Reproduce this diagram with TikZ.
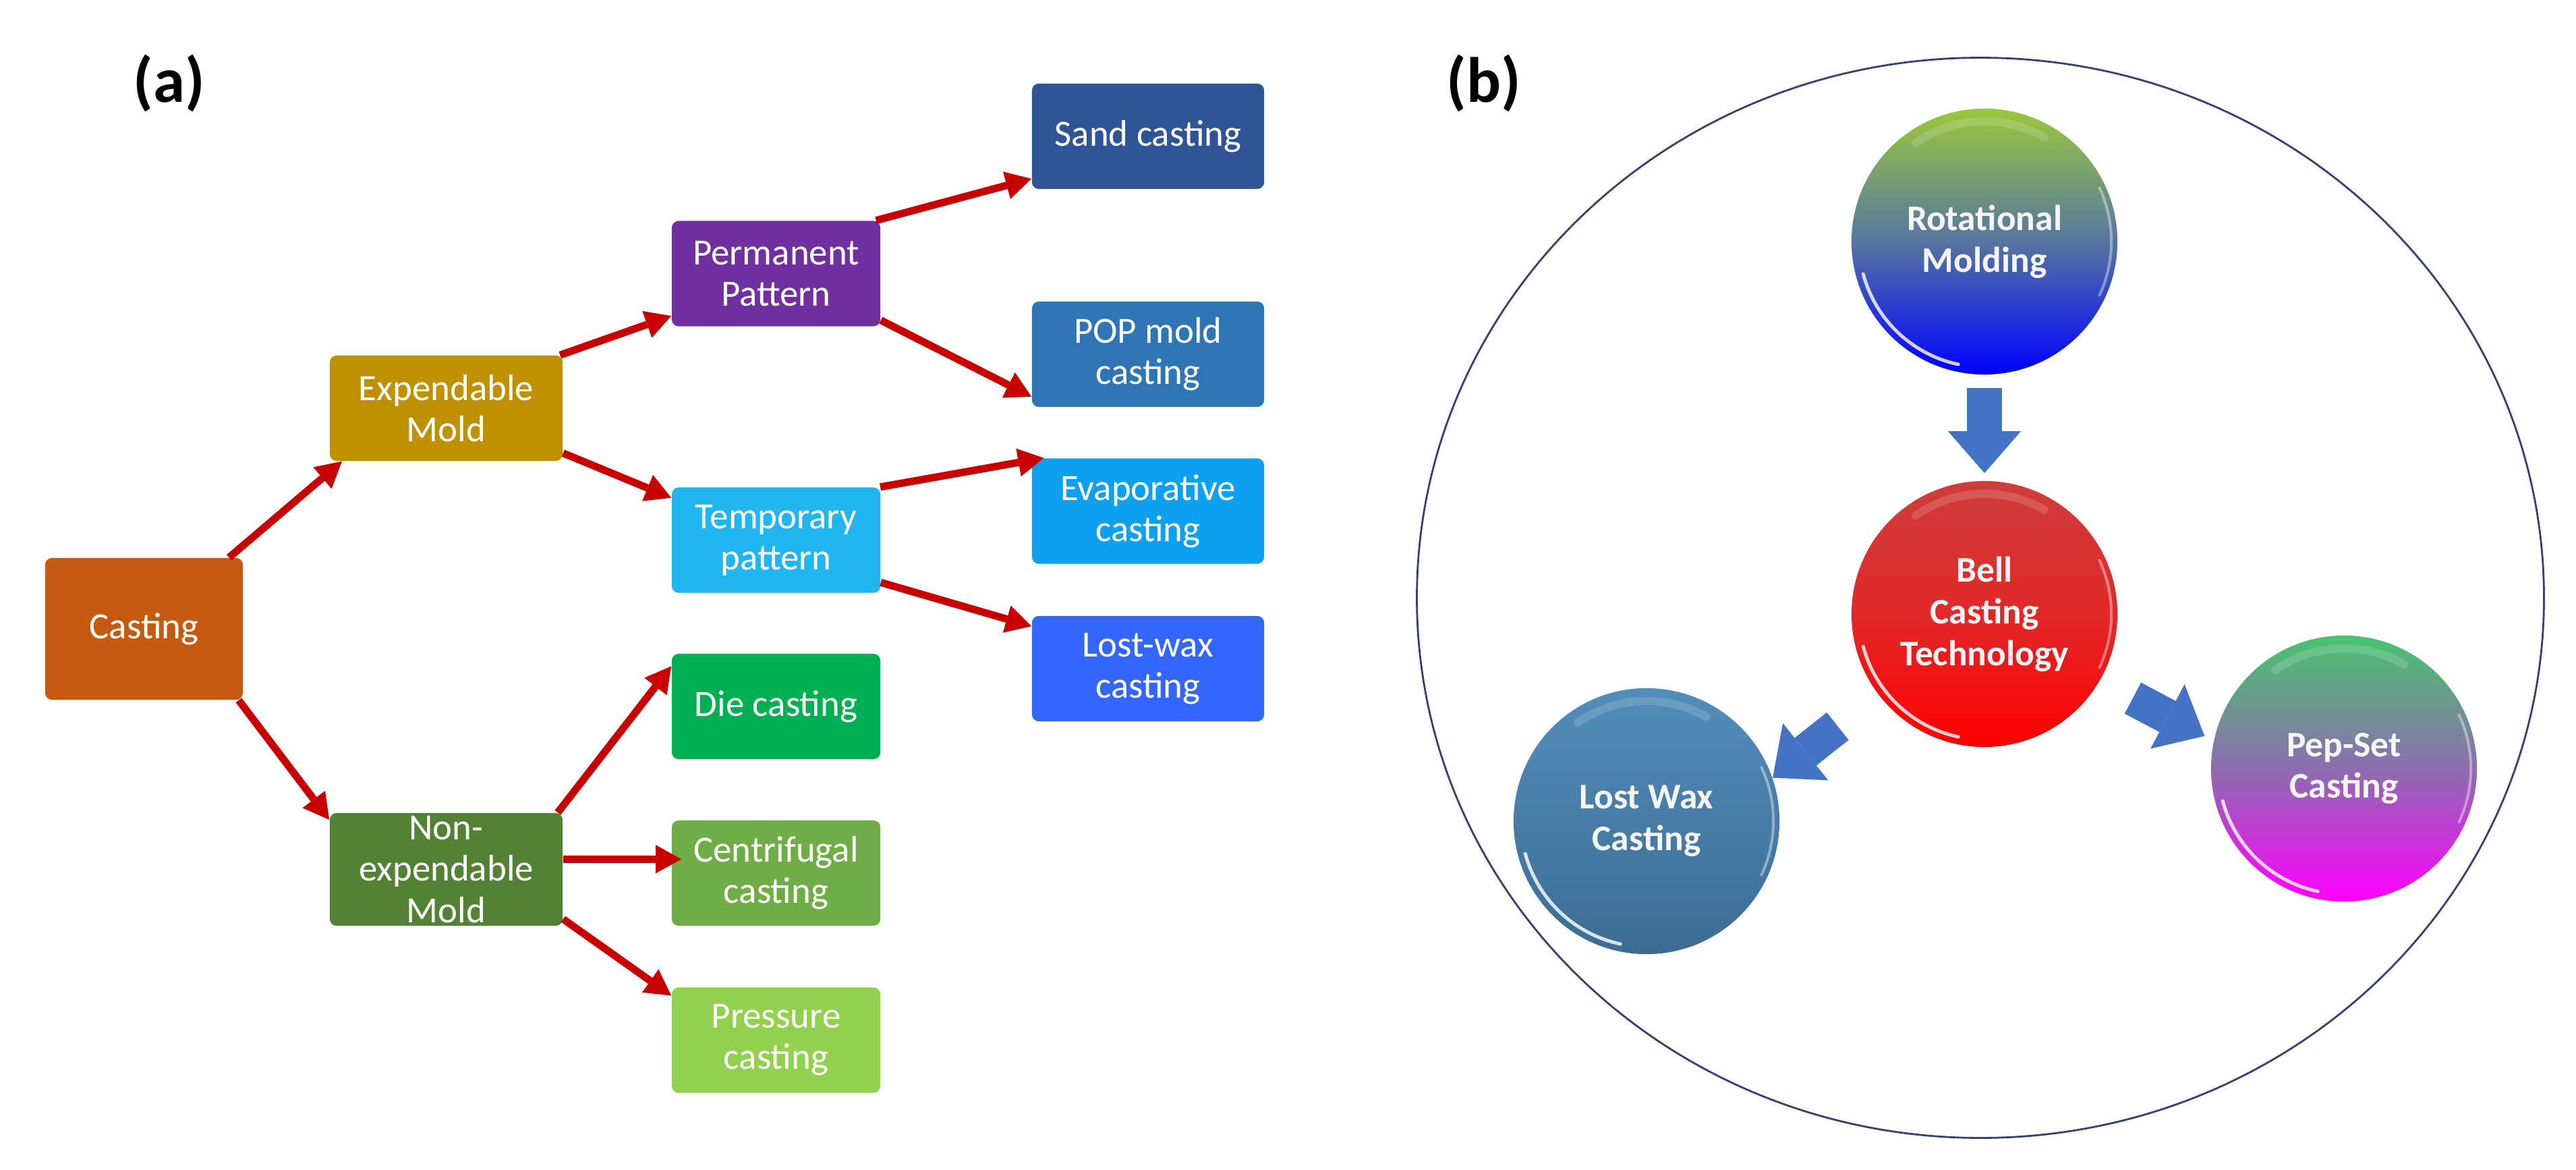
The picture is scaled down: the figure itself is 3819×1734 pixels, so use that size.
\documentclass[tikz,border=0pt]{standalone}
\usepackage{fontspec}
\setmainfont{Carlito}
\usepackage{tikz}
\usetikzlibrary{arrows.meta}

\definecolor{castcol}{RGB}{197,90,17}
\definecolor{expcol}{RGB}{191,144,0}
\definecolor{nonexpcol}{RGB}{84,130,53}
\definecolor{permcol}{RGB}{112,48,160}
\definecolor{tempcol}{RGB}{34,182,240}
\definecolor{diecol}{RGB}{0,176,80}
\definecolor{centcol}{RGB}{112,173,71}
\definecolor{prescol}{RGB}{146,208,80}
\definecolor{sandcol}{RGB}{47,85,151}
\definecolor{popcol}{RGB}{46,117,182}
\definecolor{evapcol}{RGB}{12,160,240}
\definecolor{lwcol}{RGB}{51,102,255}
\definecolor{linkred}{RGB}{200,0,0}
\definecolor{fatblue}{RGB}{68,114,196}
\definecolor{rimcol}{RGB}{55,65,110}

\newcommand{\boxfont}{\fontsize{15.6}{17.4}\selectfont}
\newcommand{\ballfont}{\bfseries\fontsize{15.2}{17.6}\selectfont}
\newcommand{\tagfont}{\bfseries\fontsize{27}{30}\selectfont}

\begin{document}
\begin{tikzpicture}[x=0.01cm, y=-0.01cm,
    box/.style={rectangle, rounded corners=0.1cm, text=white, align=center, font=\boxfont,
      minimum height=1.56cm, inner sep=0pt},
    link/.style={draw=linkred, line width=0.11cm, -{Triangle[width=0.42cm,length=0.38cm,line width=0pt]}},
    ball/.style={circle, minimum size=3.94cm, inner sep=0pt, text=white!92!gray, align=center, font=\ballfont,
      path picture={
        \draw[white, opacity=0.8, line width=0.05cm, line cap=round]
          ([shift={(195:1.86cm)}]path picture bounding box.center) arc[start angle=195, end angle=258, radius=1.86cm];
        \draw[white, opacity=0.4, line width=0.04cm, line cap=round]
          ([shift={(-25:1.88cm)}]path picture bounding box.center) arc[start angle=-25, end angle=25, radius=1.88cm];
        \draw[white, opacity=0.15, line width=0.12cm, line cap=round]
          ([shift={(60:1.78cm)}]path picture bounding box.center) arc[start angle=60, end angle=125, radius=1.78cm];
      }},
    fatarrow/.style={draw=fatblue, line width=0.52cm, -{Triangle[width=1.08cm,length=0.62cm,line width=0pt]}},
    rim/.style={draw=rimcol, line width=0.8pt}]
    \useasboundingbox (0,0) rectangle (3819,1734);

    % (a) tree of casting methods
    \node[font=\tagfont] (taga) at (251,123) {(a)};
    \node[box, fill=castcol, minimum width=2.93cm, minimum height=2.10cm] (casting) at (213.5,932) {Casting};
    \node[box, fill=expcol, minimum width=3.45cm] (expmold) at (661.5,605) {Expendable\\Mold};
    \node[box, fill=nonexpcol, minimum width=3.45cm, minimum height=1.67cm] (nonexp) at (661.5,1288.5) {Non-\\expendable\\Mold};
    \node[box, fill=permcol, minimum width=3.09cm] (permpat) at (1150.5,405.5) {Permanent\\Pattern};
    \node[box, fill=tempcol, minimum width=3.09cm] (temppat) at (1150.5,800.5) {Temporary\\pattern};
    \node[box, fill=diecol, minimum width=3.09cm] (die) at (1150.5,1047) {Die casting};
    \node[box, fill=centcol, minimum width=3.09cm] (centri) at (1150.5,1294) {Centrifugal\\casting};
    \node[box, fill=prescol, minimum width=3.09cm] (pressure) at (1150.5,1541.5) {Pressure\\casting};
    \node[box, fill=sandcol, minimum width=3.44cm] (sand) at (1702,202) {Sand casting};
    \node[box, fill=popcol, minimum width=3.44cm] (pop) at (1702,525) {POP mold\\casting};
    \node[box, fill=evapcol, minimum width=3.44cm] (evap) at (1702,757.5) {Evaporative\\casting};
    \node[box, fill=lwcol, minimum width=3.44cm] (lwbox) at (1702,991) {Lost-wax\\casting};

    \draw[link] (casting.40) -- (expmold.207);
    \draw[link] (casting.-37) -- (nonexp.157);
    \draw[link] (expmold.25) -- (permpat.202);
    \draw[link] (expmold.-21) -- (temppat.158);
    \draw[link] (permpat.28) -- (sand.200);
    \draw[link] (permpat.-24) -- (pop.200);
    \draw[link] (temppat.27) -- (evap.153);
    \draw[link] (temppat.-22) -- (lwbox.160);
    \draw[link] (nonexp.27) -- (die.159);
    \draw[link, shorten >=-0.15cm] (nonexp.5) -- (nonexp.5 -| centri.west);
    \draw[link] (nonexp.-23) -- (pressure.157);

    % (b) bell casting and its neighbours
    \node[font=\tagfont] (tagb) at (2200,123) {(b)};
    \draw[rim] (2936,886) ellipse [x radius=8.35cm, y radius=8.00cm];
    \node[ball, top color={rgb,255:red,155;green,200;blue,60}, bottom color={rgb,255:red,0;green,0;blue,255},
      middle color={rgb,255:red,85;green,118;blue,160}] (rot) at (2942,358) {Rotational\\Molding};
    \node[ball, top color={rgb,255:red,205;green,62;blue,60}, bottom color={rgb,255:red,255;green,0;blue,0},
      middle color={rgb,255:red,225;green,40;blue,40}] (bell) at (2942,910) {Bell\\Casting\\Technology};
    \node[ball, top color={rgb,255:red,82;green,142;blue,186}, bottom color={rgb,255:red,60;green,108;blue,148}] (lost) at (2441,1217) {Lost Wax\\Casting};
    \node[ball, top color={rgb,255:red,72;green,196;blue,110}, bottom color={rgb,255:red,255;green,0;blue,255},
      middle color={rgb,255:red,140;green,110;blue,175}] (pep) at (3475,1139) {Pep-Set\\Casting};

    \draw[fatarrow, shorten <=0.19cm, shorten >=0.11cm] (rot) -- (bell);
    \draw[fatarrow, shorten <=0.76cm] (bell.217) -- (lost.19);
    \draw[fatarrow, shorten <=0.55cm, shorten >=0.15cm] (bell.-30) -- (pep.168);
\end{tikzpicture}
\end{document}
